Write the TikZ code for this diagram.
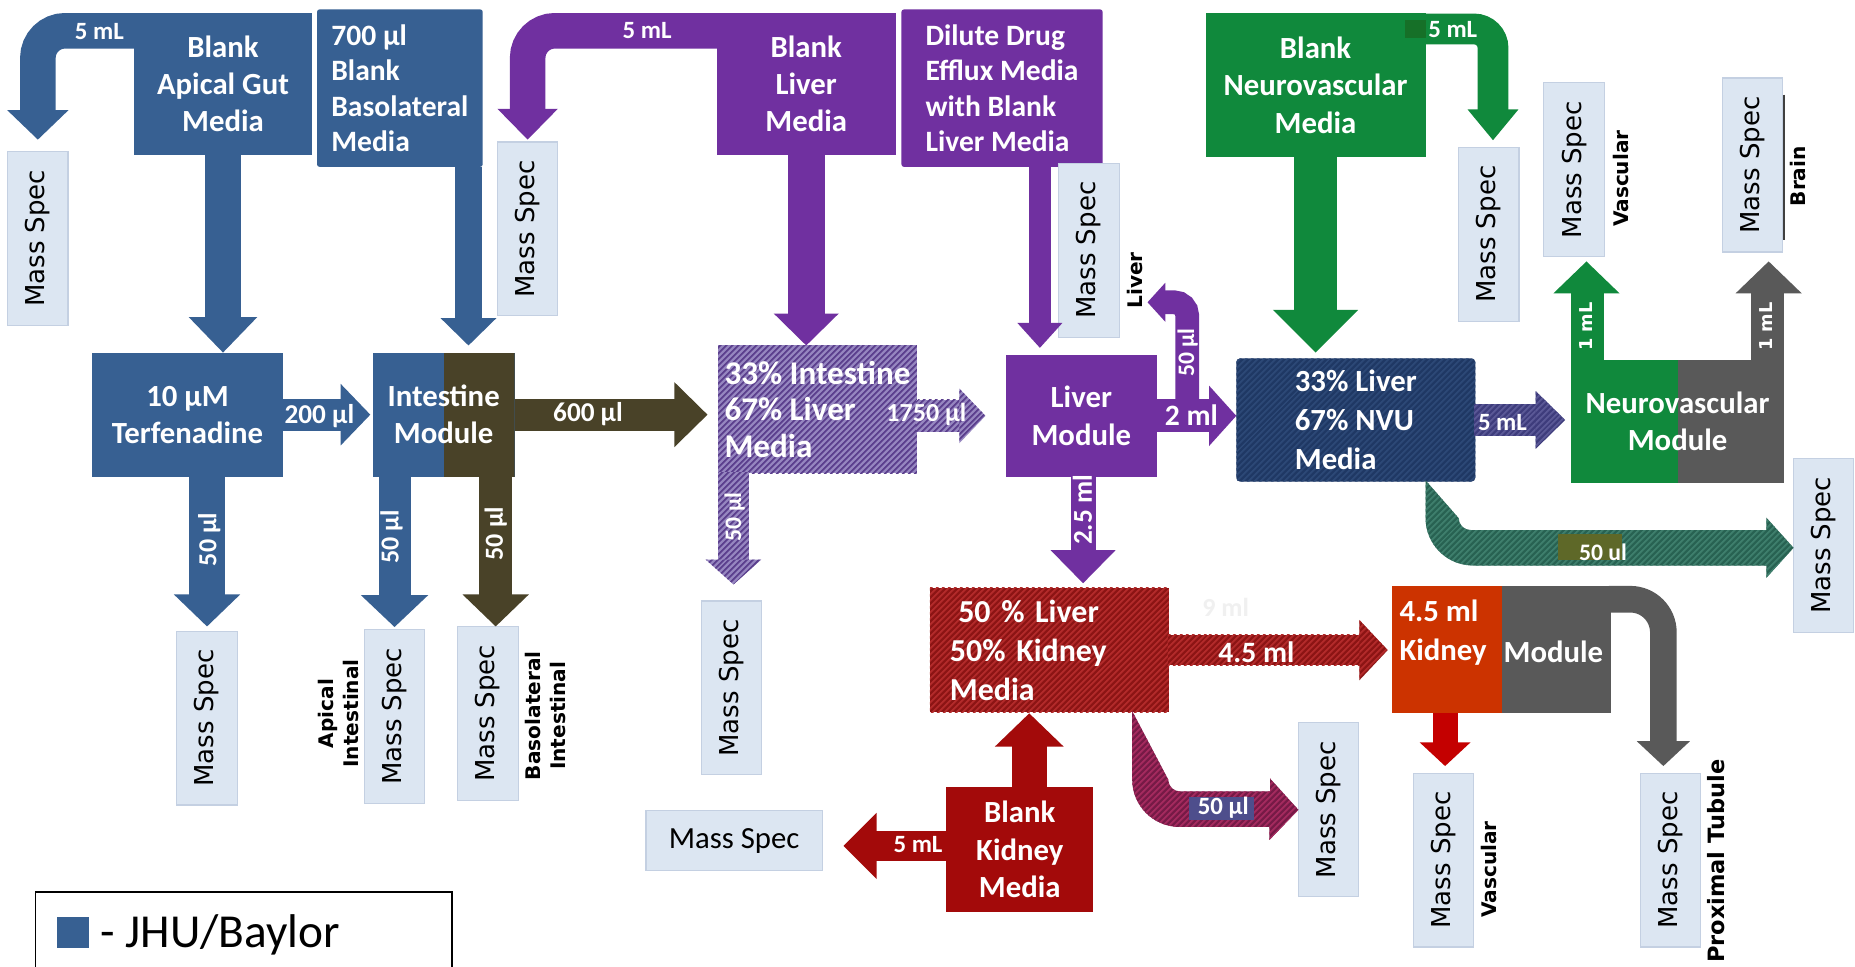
\documentclass[tikz,border=0pt]{standalone}
\usepackage{fontspec}
\setmainfont{Carlito}
\newfontfamily\msfont{DejaVu Sans}
\usepackage{graphicx}
\usetikzlibrary{calc,patterns.meta}

\definecolor{jhublue}{RGB}{55,96,146}
\definecolor{gutbrown}{RGB}{73,66,40}
\definecolor{liverpurple}{RGB}{112,48,160}
\definecolor{nvugreen}{RGB}{16,137,60}
\definecolor{markgreen}{RGB}{22,112,40}
\definecolor{modgrey}{RGB}{89,89,89}
\definecolor{kidred}{RGB}{163,10,10}
\definecolor{kidorange}{RGB}{204,51,0}
\definecolor{tubred}{RGB}{196,0,0}
\definecolor{msfill}{RGB}{220,230,242}
\definecolor{msline}{RGB}{196,208,226}
\definecolor{mixbase}{RGB}{150,134,192}
\definecolor{mixline}{RGB}{92,64,142}
\definecolor{navybase}{RGB}{31,56,100}
\definecolor{navyline}{RGB}{44,72,118}
\definecolor{nvuflow}{RGB}{62,60,124}
\definecolor{nvuflowline}{RGB}{90,88,150}
\definecolor{tealbase}{RGB}{40,98,82}
\definecolor{tealline}{RGB}{62,126,108}
\definecolor{redbase}{RGB}{140,20,20}
\definecolor{redline}{RGB}{178,42,42}
\definecolor{maroonbase}{RGB}{118,26,70}
\definecolor{maroonline}{RGB}{164,42,94}
\definecolor{olivetag}{RGB}{94,104,40}
\definecolor{slatetag}{RGB}{78,78,140}

\begin{document}
\begin{tikzpicture}[x=1pt, y=1pt,
    every node/.style={inner sep=0pt, outer sep=0pt},
    srcbox/.style={rectangle, text=white, align=center, font=\bfseries\fontsize{26}{31.5}\selectfont},
    msbox/.style={rectangle, fill=msfill, draw=msline, line width=1pt, minimum width=51pt, minimum height=147pt, font=\msfont\fontsize{22}{26}\selectfont},
    lbl/.style={text=white, font=\bfseries\fontsize{#1}{#1}\selectfont}, lbl/.default=22,
    vlbl/.style={lbl=#1, rotate=90}, vlbl/.default=22,
    mllbl/.style={text=white, font=\msfont\bfseries\fontsize{15}{15}\selectfont, rotate=90},
    side/.style={font=\msfont\bfseries\fontsize{#1}{21}\selectfont, rotate=90, align=center}, side/.default=17,
    split/.style 2 args={fill=#1, path picture={\fill[#2] (path picture bounding box.north) rectangle (path picture bounding box.south east);}},
    hatch/.style 2 args={fill=#1, postaction={pattern={Lines[angle=45,distance=4pt,line width=2pt]}, pattern color=#2}}
]

\fill[white] (0,0) rectangle (1568,-817);
\useasboundingbox (0,0) rectangle (1568,-817);

% media reservoirs
\node[srcbox, fill=jhublue, minimum width=151pt, minimum height=120pt] (apgut) at (188.5,-71) {Blank\\Apical Gut\\Media};
\node[srcbox, fill=jhublue, rounded corners=2pt, minimum width=140pt, minimum height=133pt, align=left, font=\bfseries\fontsize{25}{30}\selectfont] (baso) at (338,-74.5) {700 µl\\Blank\\Basolateral\\Media};
\node[srcbox, fill=liverpurple, minimum width=151pt, minimum height=120pt] (livblank) at (681.5,-71) {Blank\\Liver\\Media};
\node[srcbox, fill=liverpurple, rounded corners=2pt, minimum width=170pt, minimum height=133pt, align=left, font=\bfseries\fontsize{25}{30}\selectfont] (dilute) at (847,-74.5) {Dilute Drug\\Efflux Media\\with Blank\\Liver Media};
\node[srcbox, fill=nvugreen, minimum width=186pt, minimum height=122pt] (nvublank) at (1112,-72) {Blank\\Neurovascular\\Media};
\node[srcbox, fill=kidred, minimum width=124pt, minimum height=106pt] (kidblank) at (862,-718) {Blank\\Kidney\\Media};

% modules and mixed media
\node[srcbox, fill=jhublue, minimum width=161pt, minimum height=105pt] (terf) at (158.5,-350.5) {10 µM\\Terfenadine};
\node[srcbox, split={jhublue}{gutbrown}, minimum width=120pt, minimum height=105pt] (intest) at (375,-350.5) {Intestine\\Module};
\node[srcbox, hatch={mixbase}{mixline}, minimum width=168pt, minimum height=108pt, align=left, font=\bfseries\fontsize{28}{31}\selectfont] (mixgut) at (691,-346) {33\% Intestine\\67\% Liver\\Media};
\node[srcbox, fill=liverpurple, minimum width=128pt, minimum height=103pt] (livmod) at (914,-351.5) {Liver\\Module};
\node[srcbox, hatch={navybase}{navyline}, rounded corners=3pt, minimum width=202pt, minimum height=104pt, align=left, font=\bfseries\fontsize{26}{33}\selectfont] (mixnvu) at (1146,-355) {33\% Liver\\67\% NVU\\Media};
\node[srcbox, split={nvugreen}{modgrey}, minimum width=180pt, minimum height=104pt] (nvumod) at (1418,-356) {Neurovascular\\Module};
\node[srcbox, hatch={redbase}{redline}, minimum width=202pt, minimum height=105pt, text width=168pt, align=left, font=\bfseries\fontsize{27}{33}\selectfont] (mixkid) at (887,-549.5) {\hspace*{7pt}50 \% Liver\\50\% Kidney\\Media};
\node[srcbox, split={kidorange}{modgrey}, minimum width=185pt, minimum height=108pt] (kidmod) at (1269.5,-549) {};
\node[text=white, align=left, font=\bfseries\fontsize{26}{33}\selectfont, anchor=west] (kidvol) at ($(kidmod.west)+(6,14.5)$) {4.5 ml\\Kidney};
\node[lbl=26, anchor=west] (kidword) at ($(kidmod.center)+(1.5,-2)$) {Module};

% sampling boxes
\node[msbox] (msgut) at (32,-201.5) {\rotatebox{90}{Mass Spec}};
\node[msbox] (msliv) at (446,-193.5) {\rotatebox{90}{Mass Spec}};
\node[msbox] (mshep) at (920.5,-211.5) {\rotatebox{90}{Mass Spec}};
\node[msbox] (msnvu) at (1258.5,-198) {\rotatebox{90}{Mass Spec}};
\node[msbox] (msvas) at (1330.5,-143.5) {\rotatebox{90}{Mass Spec}};
\node[msbox] (msbrain) at (1481.5,-139.5) {\rotatebox{90}{Mass Spec}};
\node[msbox] (msterf) at (175,-607) {\rotatebox{90}{Mass Spec}};
\node[msbox] (msapi) at (333.5,-605.5) {\rotatebox{90}{Mass Spec}};
\node[msbox] (msbaso) at (412.5,-603) {\rotatebox{90}{Mass Spec}};
\node[msbox] (msmix) at (618.5,-581.5) {\rotatebox{90}{Mass Spec}};
\node[msbox] (msout) at (1541.5,-461) {\rotatebox{90}{Mass Spec}};
\node[msbox] (msrenal) at (1123,-684.5) {\rotatebox{90}{Mass Spec}};
\node[msbox] (mskvas) at (1220,-727) {\rotatebox{90}{Mass Spec}};
\node[msbox] (mspt) at (1412,-727) {\rotatebox{90}{Mass Spec}};
\node[msbox, minimum width=149pt, minimum height=51pt, font=\fontsize{26}{30}\selectfont] (mskid) at (620.5,-710.5) {Mass Spec};
\draw[line width=1.5pt, black!75] ($(msbrain.north east)+(1,-14)$) -- ($(msbrain.south east)+(1,10)$);

\node[side] (apilbl) at (286,-603) {Apical\\Intestinal};
\node[side] (basolbl) at (461,-605) {Basolateral\\Intestinal};
\node[side] (livlbl) at (959,-237) {Liver};
\node[side] (vaslbl) at (1370,-151) {Vascular};
\node[side] (brainlbl) at (1520,-149) {Brain};
\node[side] (kvaslbl) at (1259,-735) {Vascular};
\node[side=19] (ptlbl) at (1451,-728) {Proximal Tubule};

% gut flows
\draw[jhublue, line width=30pt, rounded corners=23pt] ($(apgut.north west)+(2,-15)$) -- ++(-83,0) -- ++(0,-69);
\fill[jhublue] ($(msgut.north)+(0,10)$) -- ++(-26,25) -- ++(52,0) -- cycle;
\draw[jhublue, line width=30pt] (apgut.south) -- ++(0,-139);
\fill[jhublue] (apgut.south |- terf.north) -- ++(-29,30) -- ++(58,0) -- cycle;
\draw[jhublue, line width=22pt] ([xshift=58pt]baso.south) -- ++(0,-130);
\fill[jhublue] ($(intest.north)+(21,6)$) -- ++(-23.5,23) -- ++(47,0) -- cycle;
\draw[jhublue, line width=27pt] (terf.east) -- ++(51,0);
\fill[jhublue] ($(intest.west)+(-2,0)$) -- ++(-25,26) -- ++(0,-52) -- cycle;
\draw[gutbrown, line width=27pt] (intest.east) -- ++(137,0);
\fill[gutbrown] ($(mixgut.west |- intest.east)+(-9,0)$) -- ++(-28,27.5) -- ++(0,-55) -- cycle;
\draw[jhublue, line width=31pt] (msterf.north |- terf.south) -- ++(0,-102);
\fill[jhublue] ($(msterf.north)+(0,4)$) -- ++(-28,27) -- ++(56,0) -- cycle;
\draw[jhublue, line width=27pt] (msapi.north |- intest.south) -- ++(0,-102);
\fill[jhublue] ($(msapi.north)+(0,2)$) -- ++(-28.5,27) -- ++(57,0) -- cycle;
\draw[gutbrown, line width=28pt] ($(msbaso.north |- intest.south)+(6.5,0)$) -- ++(0,-102);
\fill[gutbrown] ($(msbaso.north)+(6.5,0)$) -- ++(-28,27) -- ++(56,0) -- cycle;

% liver flows
\draw[liverpurple, line width=30pt, rounded corners=23pt] ($(livblank.north west)+(2,-15)$) -- ++(-162,0) -- ++(0,-68);
\fill[liverpurple] ($(msliv.north)+(0,2)$) -- ++(-25.5,26) -- ++(51,0) -- cycle;
\draw[liverpurple, line width=31pt] (livblank.south) -- ++(0,-137);
\fill[liverpurple] (livblank.south |- mixgut.north) -- ++(-27.5,27) -- ++(55,0) -- cycle;
\draw[liverpurple, line width=18pt] ([xshift=32pt]dilute.south) -- ++(0,-134);
\fill[liverpurple] ($(livmod.north)+(-35,6)$) -- ++(-19,21) -- ++(38,0) -- cycle;
\fill[hatch={mixbase}{mixline}] ($(mixgut.east |- livmod.west)+(-1,13.5)$) rectangle ++(38,-27);
\fill[hatch={mixbase}{mixline}] ($(livmod.west)+(-17,0)$) -- ++(-22,23) -- ++(0,-46) -- cycle;
\fill[hatch={mixbase}{mixline}] ($(mixgut.south west)+(0,1)$) rectangle ++(26,-75);
\fill[hatch={mixbase}{mixline}] ($(msmix.north)+(1.5,14)$) -- ++(-23.5,21) -- ++(47,0) -- cycle;
\draw[liverpurple, line width=28pt] (livmod.east) -- ++(46,0);
\fill[liverpurple] (mixnvu.west |- livmod.east) -- ++(-23,25.5) -- ++(0,-51) -- cycle;
\coordinate (livtap) at (970,-255.5);
\draw[liverpurple, line width=20pt, rounded corners=11pt] ($(livmod.east)+(25.5,0)$) -- ++(0,96) -- ++(-20.5,0);
\fill[liverpurple] (livtap) -- ++(15,16.5) -- ++(0,-33) -- cycle;
\draw[liverpurple, line width=21pt] ([xshift=1.5pt]livmod.south) -- ++(0,-64);
\fill[liverpurple] ($(livmod.south |- mixkid.north)+(1.5,4)$) -- ++(-27.5,28) -- ++(55,0) -- cycle;

% neurovascular flows
\draw[nvugreen, line width=36pt] (nvublank.south) -- ++(0,-131);
\fill[nvugreen] ($(nvublank.south |- mixnvu.north)+(0,5)$) -- ++(-36,36) -- ++(72,0) -- cycle;
\draw[nvugreen, line width=26pt, rounded corners=16pt] ($(nvublank.north east)+(-2,-13.5)$) -- ++(59,0) -- ++(0,-69.5);
\fill[nvugreen] ($(msnvu.north)+(3.5,6)$) -- ++(-21.5,26) -- ++(43,0) -- cycle;
\fill[markgreen] ($(nvublank.north east)+(-17,-6)$) rectangle ++(17,-15);
\fill[hatch={nvuflow}{nvuflowline}] ($(mixnvu.east)+(-1,13.5)$) rectangle ++(53,-27);
\fill[hatch={nvuflow}{nvuflowline}] ($(nvumod.west |- mixnvu.east)+(-5,0)$) -- ++(-25,24.5) -- ++(0,-49) -- cycle;
\draw[nvugreen, line width=28pt] ($(nvumod.north west)+(14,-1)$) -- ++(0,59);
\fill[nvugreen] ($(msvas.south)+(10.5,-4)$) -- ++(-28,-27) -- ++(56,0) -- cycle;
\draw[modgrey, line width=28pt] ($(nvumod.north east)+(-14,-1)$) -- ++(0,59);
\fill[modgrey] ($(msbrain.south)+(13.5,-8)$) -- ++(-28,-27) -- ++(56,0) -- cycle;
\fill[hatch={tealbase}{tealline}] ($(mixnvu.south east)+(-42,1)$) -- ++(0,-32)
    arc[start angle=180, end angle=270, radius=40pt] -- ++(248,0) -- ++(0,-10.5)
    -- ($(msout.west)+(0,-2)$) -- ++(-23,25.5) -- ++(0,-10.5) -- ++(-250,0)
    arc[start angle=270, end angle=180, radius=10pt] -- cycle;

% kidney flows
\fill[hatch={redbase}{redline}] ($(mixkid.east)+(-1,13)$) rectangle ++(163,-26);
\fill[hatch={redbase}{redline}] ($(kidmod.west |- mixkid.east)+(-4,0)$) -- ++(-24,25.5) -- ++(0,-51) -- cycle;
\draw[tubred, line width=21pt] ($(mskvas.north |- kidmod.south)+(1.5,0)$) -- ++(0,-27);
\fill[tubred] ($(mskvas.north)+(1.5,6)$) -- ++(-21.5,20) -- ++(43,0) -- cycle;
\draw[modgrey, line width=22.5pt, rounded corners=28pt] ($(kidmod.north east)+(-2,-11.5)$) -- ++(46,0) -- ++(0,-122.5);
\fill[modgrey] ($(mspt.north)+(-6,6)$) -- ++(-22.5,21) -- ++(45,0) -- cycle;
\draw[kidred, line width=30pt] ($(kidblank.north)+(8,0)$) -- ++(0,36);
\fill[kidred] ($(kidblank.north |- mixkid.south)+(8,-1)$) -- ++(-29,-28) -- ++(58,0) -- cycle;
\draw[kidred, line width=26pt] ($(kidblank.west)+(0,3)$) -- ++(-61,0);
\fill[kidred] ($(mskid.east |- kidblank.west)+(18,3)$) -- ++(28,28) -- ++(0,-56) -- cycle;
\fill[hatch={maroonbase}{maroonline}] ($(mixkid.south east)+(-31,1)$) -- ++(0,-58)
    arc[start angle=180, end angle=270, radius=40pt] -- ++(76,0) -- ++(0,-11)
    -- (msrenal.west) -- ++(-24,26.5) -- ++(0,-11) -- ++(-76,0)
    arc[start angle=270, end angle=180, radius=10pt] -- cycle;

% flow volumes
\node[lbl=21] (gutml) at (84,-27) {5 mL};
\node[lbl=21] (livml) at (547,-26) {5 mL};
\node[lbl=21] (nvuml) at (1228,-25) {5 mL};
\node[lbl=23] (vol200) at (270,-352) {200 µl};
\node[lbl=23] (vol600) at (497,-350) {600 µl};
\node[lbl=22] (vol1750) at (783,-350) {1750 µl};
\node[lbl=25] (vol2) at (1007,-351) {2 ml};
\node[lbl=21] (vol5) at (1270,-357) {5 mL};
\node[lbl=25] (vol45) at (1062,-551) {4.5 ml};
\node[lbl=21] (kidml) at (776,-714) {5 mL};
\node[vlbl] (smpterf) at (177,-456) {50 µl};
\node[vlbl] (smpapi) at (331,-454) {50 µl};
\node[vlbl] (smpbaso) at (419,-451) {50 µl};
\node[vlbl=20] (smpmix) at (621,-437) {50 µl};
\node[vlbl=20] (smpliv) at (1004,-298) {50 µl};
\node[vlbl=23] (vol25) at (915,-431) {2.5 ml};
\node[mllbl] (volvas) at (1341,-276) {1 mL};
\node[mllbl] (volbrain) at (1493,-276) {1 mL};
\node[fill=olivetag, minimum width=54pt, minimum height=22pt] (tagnvu) at (1344,-462) {};
\node[lbl=20] (smpnvu) at (1355,-467) {50 ul};
\node[fill=slatetag, minimum width=55pt, minimum height=20pt] (tagkid) at (1032.5,-683.5) {};
\node[lbl=21] (smpkid) at (1034,-683) {50 µl};
\node[text=black!6, font=\bfseries\fontsize{22}{22}\selectfont] (ghost) at (1036,-513) {9 ml};

% key
\draw[line width=1.3pt] (30,-817) |- (382,-754) -- (382,-817);
\node[fill=jhublue, minimum width=27pt, minimum height=26pt] (keysq) at (61.5,-788) {};
\node[anchor=base west, font=\fontsize{40}{44}\selectfont] (keytxt) at (85,-801) {- JHU/Baylor};

\end{tikzpicture}
\end{document}
